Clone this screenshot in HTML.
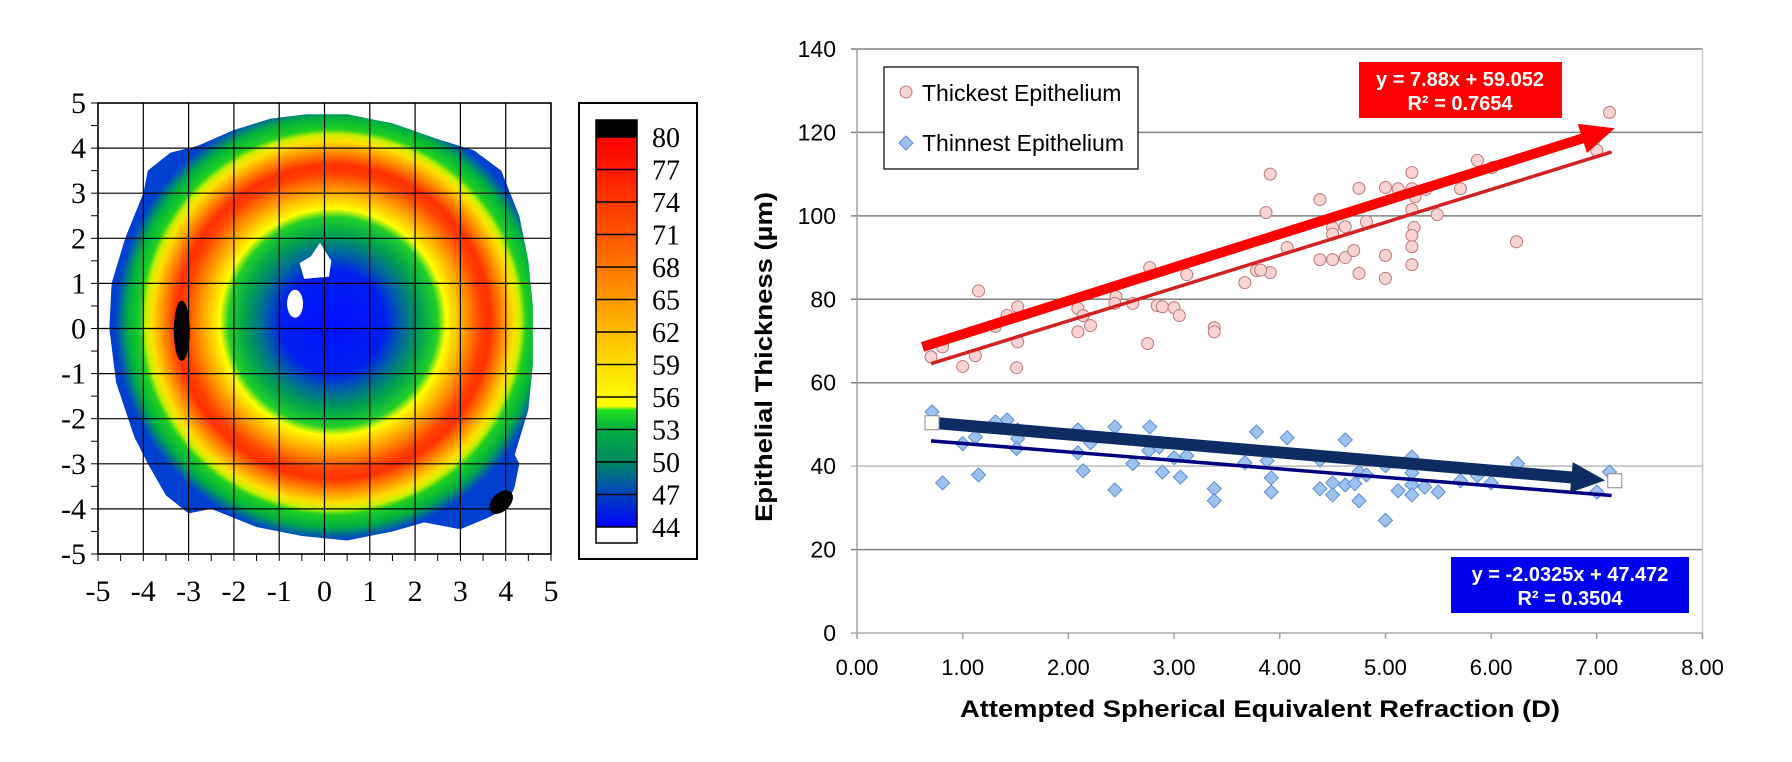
<!DOCTYPE html>
<html><head><meta charset="utf-8"><style>
html,body{margin:0;padding:0;background:#fff;}
svg{display:block;}
.serif{font-family:"Liberation Serif",serif;}
.sans{font-family:"Liberation Sans",sans-serif;}
</style></head><body>
<svg id="root" width="1792" height="762" viewBox="0 0 1792 762" xmlns="http://www.w3.org/2000/svg">
<defs>
<radialGradient id="mapGrad" gradientUnits="userSpaceOnUse" cx="333" cy="322" r="218">
<stop offset="0" stop-color="#0010ff"/><stop offset="0.24" stop-color="#0020ee"/>
<stop offset="0.32" stop-color="#00689e"/><stop offset="0.40" stop-color="#00a050"/>
<stop offset="0.48" stop-color="#20d028"/><stop offset="0.52" stop-color="#ffff00"/>
<stop offset="0.60" stop-color="#ffa000"/><stop offset="0.68" stop-color="#ff4000"/>
<stop offset="0.72" stop-color="#ff3000"/><stop offset="0.78" stop-color="#ff9000"/>
<stop offset="0.83" stop-color="#ffe000"/><stop offset="0.86" stop-color="#c8f000"/>
<stop offset="0.885" stop-color="#20d020"/><stop offset="0.94" stop-color="#00b040"/>
<stop offset="1" stop-color="#0040d0"/></radialGradient>
<linearGradient id="cbGrad" x1="0" y1="0" x2="0" y2="1">
<stop offset="0" stop-color="#ff0000"/><stop offset="0.083" stop-color="#ff1a00"/>
<stop offset="0.25" stop-color="#ff5500"/><stop offset="0.417" stop-color="#ff9900"/>
<stop offset="0.583" stop-color="#ffdd00"/><stop offset="0.69" stop-color="#ffff00"/>
<stop offset="0.70" stop-color="#20e020"/><stop offset="0.75" stop-color="#00b040"/>
<stop offset="0.833" stop-color="#008860"/><stop offset="0.9" stop-color="#0050b0"/>
<stop offset="1" stop-color="#0000ff"/></linearGradient>
<clipPath id="mapClip"><polygon id="clipPoly"/></clipPath>
</defs>
<g id="mapLayer"></g>
<g id="cbLayer"></g>
<g id="chartLayer"></g>
</svg>
<script>
// ---------- chart data ----------
const xTickLabels = ["0.00","1.00","2.00","3.00","4.00","5.00","6.00","7.00","8.00"];
const yTickValues = [0,20,40,60,80,100,120,140];
const thickX = [3.91,3.87,1.15,0.70,0.81,1.0,1.12,1.31,1.42,1.52,1.52,1.51,2.09,2.14,2.09,2.21,2.45,2.44,2.61,2.77,2.75,2.84,2.89,3.0,3.05,3.12,3.38,3.38,3.67,3.78,3.91,4.07,7.12,7.0,4.38,4.75,5.0,5.12,5.25,5.25,5.28,5.38,5.25,5.49,5.71,5.87,6.01,4.82,4.62,4.5,4.5,5.27,5.25,5.25,5.25,6.24,3.82,4.38,4.5,4.62,4.7,4.75,5.0,5.0];
const thickY = [110,100.8,82,66.2,68.6,63.9,66.5,73.5,76.1,78.2,69.8,63.6,77.8,76.1,72.2,73.7,80.6,79,79,87.6,69.4,78.5,78.2,78,76.1,85.9,73.2,72.2,84,86.9,86.4,92.4,124.8,115.7,103.9,106.6,106.8,106.5,110.4,106.5,104.6,106.3,101.5,100.3,106.5,113.3,111.6,98.6,97.4,97.2,95.6,97.2,95.3,92.6,88.3,93.8,87,89.5,89.5,90,91.7,86.2,90.5,85];
const thinX = [0.71,0.81,1.0,1.12,1.15,1.31,1.42,1.52,1.52,1.51,2.09,2.09,2.21,2.14,2.44,2.44,2.61,2.77,2.76,2.86,2.89,3.0,3.12,3.06,3.38,3.38,3.67,3.78,3.88,3.92,3.92,4.07,4.62,4.38,4.38,4.5,4.5,4.62,4.71,4.75,4.82,4.75,5.0,5.12,5.25,5.25,5.25,5.25,5.37,5.5,5.71,5.87,6.0,6.25,7.0,7.12,5.0];
const thinY = [53,36,45.4,47,37.9,50.6,51.1,48.7,46.6,44.2,48.7,43.2,45.6,38.9,49.4,34.3,40.6,49.4,43.7,44.6,38.6,42,42.5,37.4,34.6,31.7,40.8,48.2,41.3,37.2,33.8,46.8,46.3,41.5,34.6,36,33.1,35.5,35.8,38.6,37.9,31.7,40.1,34.1,42.2,38.4,35.5,33.1,35,33.8,36.5,37.7,36,40.6,33.8,38.6,27];
const thickFit = [7.88, 59.052];
const thinFit = [-2.0325, 47.472];
const fitRange = [0.7, 7.14];
const thickArrow = [0.62, 68.6, 7.17, 121];
const thinArrow = [0.71, 50.4, 7.08, 36.6];

// ---------- map data ----------
const mapTicks = [-5,-4,-3,-2,-1,0,1,2,3,4,5];
const outlineX = [-0.4,0.5,1.5,2.5,3.3,3.9,4.1,4.3,4.5,4.6,4.6,4.5,4.2,4.3,4.2,4.0,3.6,3.0,2.2,1.5,0.5,-0.5,-1.5,-2.5,-3.0,-3.5,-3.9,-4.2,-4.6,-4.75,-4.7,-4.4,-4.0,-3.9,-3.4,-2.8,-2.0,-1.2];
const outlineY = [4.75,4.75,4.55,4.2,3.95,3.5,3.0,2.5,1.5,0.5,-0.8,-1.8,-2.8,-3.0,-3.5,-4.0,-4.2,-4.45,-4.3,-4.5,-4.7,-4.6,-4.4,-4.0,-4.1,-3.7,-3.0,-2.4,-1.2,0,1.0,2.0,3.0,3.5,3.9,4.05,4.4,4.65];
const cbLabels = ["80","77","74","71","68","65","62","59","56","53","50","47","44"];

const NS="http://www.w3.org/2000/svg";
function mk(parent,tag,attrs,text){const e=document.createElementNS(NS,tag);for(const k in attrs)e.setAttribute(k,attrs[k]);if(text!==undefined)e.textContent=text;parent.appendChild(e);return e;}

// ===== Map =====
const mapG=document.getElementById('mapLayer');
const mx=v=>98+(v+5)*45.3, my=v=>103+(5-v)*45.1;
document.getElementById('clipPoly').setAttribute('points',outlineX.map((x,i)=>mx(x)+','+my(outlineY[i])).join(' '));
const disc=mk(mapG,'rect',{x:90,y:95,width:470,height:470,fill:'url(#mapGrad)','clip-path':'url(#mapClip)'});


const h1=mk(mapG,'path',{d:`M${mx(-0.1)},${my(1.9)} L${mx(0.15)},${my(1.5)} L${mx(0.1)},${my(1.15)} L${mx(-0.45)},${my(1.1)} L${mx(-0.55)},${my(1.45)} L${mx(-0.3)},${my(1.6)} Z`,fill:'#fff'});


const h2=mk(mapG,'ellipse',{cx:mx(-0.65),cy:my(0.55),rx:8,ry:14,fill:'#fff'});


const s1=mk(mapG,'ellipse',{cx:mx(-3.15),cy:my(-0.05),rx:8,ry:30,fill:'#000'});


const s2=mk(mapG,'ellipse',{cx:mx(3.9),cy:my(-3.85),rx:9,ry:14,fill:'#000',transform:`rotate(45 ${mx(3.9)} ${my(-3.85)})`});


mapTicks.forEach(t=>{
  mk(mapG,'line',{x1:mx(t),x2:mx(t),y1:my(5),y2:my(-5),stroke:'#000','stroke-width':1.2});
  mk(mapG,'line',{x1:mx(-5),x2:mx(5),y1:my(t),y2:my(t),stroke:'#000','stroke-width':1.2});
  const lx=mk(mapG,'text',{x:mx(t),y:601,'text-anchor':'middle','font-size':30,class:'serif'},String(t));
  
  
  const ly=mk(mapG,'text',{x:86,y:my(t)+10,'text-anchor':'end','font-size':30,class:'serif'},String(t));
  
  
});
for(let t=-5;t<=5;t+=0.5){mk(mapG,'line',{x1:mx(t),x2:mx(t),y1:my(-5),y2:my(-5)+7,stroke:'#000'});mk(mapG,'line',{x1:mx(-5)-7,x2:mx(-5),y1:my(t),y2:my(t),stroke:'#000'});}
mk(mapG,'rect',{x:mx(-5),y:my(5),width:mx(5)-mx(-5),height:my(-5)-my(5),fill:'none',stroke:'#000','stroke-width':1.5});

// ===== Colorbar =====
const cbG=document.getElementById('cbLayer');
mk(cbG,'rect',{x:579,y:103,width:118,height:456,fill:'#fff',stroke:'#000','stroke-width':2});
mk(cbG,'rect',{x:596,y:120,width:41,height:17,fill:'#000'});
mk(cbG,'rect',{x:596,y:137,width:41,height:390,fill:'url(#cbGrad)'});
mk(cbG,'rect',{x:596,y:527,width:41,height:16,fill:'#fff'});
mk(cbG,'rect',{x:596,y:120,width:41,height:423,fill:'none',stroke:'#000','stroke-width':1.5});
cbLabels.forEach((l,i)=>{const y=137+i*32.5;
  mk(cbG,'line',{x1:596,x2:637,y1:y,y2:y,stroke:'#000','stroke-width':1.5});
  const t=mk(cbG,'text',{x:652,y:y+10,'font-size':28,class:'serif'},l);
  
  });

// ===== Scatter chart =====
const G=document.getElementById('chartLayer');
const X0=857,X1=1702.5,Y0=633,Y140=49;
const sx=v=>X0+(X1-X0)*v/8, sy=v=>Y0-(Y0-Y140)*v/140;
yTickValues.forEach(v=>{
  const l=mk(G,'line',{x1:851,x2:X1,y1:sy(v),y2:sy(v),stroke:(v===40?'#bbbbbb':(v===0?'#aaaaaa':'#808080')),'stroke-width':1.5});
  
  
  const t=mk(G,'text',{x:836,y:sy(v)+8,'text-anchor':'end','font-size':23,class:'sans'},String(v));
  
  
});
mk(G,'line',{x1:X0,x2:X0,y1:Y140,y2:Y0,stroke:'#a0a0a0','stroke-width':1.5});
mk(G,'line',{x1:X1,x2:X1,y1:Y140,y2:Y0+6,stroke:'#c8c8c8','stroke-width':1.5});
xTickLabels.forEach((lab,i)=>{
  mk(G,'line',{x1:sx(i),x2:sx(i),y1:Y0,y2:Y0+6,stroke:'#a0a0a0','stroke-width':1.5});
  const t=mk(G,'text',{x:sx(i),y:675,'text-anchor':'middle','font-size':22,class:'sans'},lab);
  
  
});
const xt=mk(G,'text',{x:1260,y:717,'text-anchor':'middle','font-size':24,'font-weight':'bold',class:'sans',textLength:600,lengthAdjust:'spacingAndGlyphs'},'Attempted Spherical Equivalent Refraction (D)');


const yt=mk(G,'text',{x:0,y:0,'text-anchor':'middle','font-size':24,'font-weight':'bold',class:'sans',textLength:330,lengthAdjust:'spacingAndGlyphs',transform:'translate(772 357) rotate(-90)'},'Epithelial Thickness (µm)');



// points
thickX.forEach((x,i)=>{const c=mk(G,'circle',{cx:sx(x),cy:sy(thickY[i]),r:6,fill:'#f9d2d2',stroke:'#b87878','stroke-width':1});

});
thinX.forEach((x,i)=>{const cx=sx(x),cy=sy(thinY[i]);const d=mk(G,'polygon',{points:`${cx},${cy-7} ${cx+7},${cy} ${cx},${cy+7} ${cx-7},${cy}`,fill:'#9cc3f0',stroke:'#5b8bd0','stroke-width':1});

});

// trend lines
const tl1=mk(G,'line',{x1:sx(fitRange[0]),y1:sy(thickFit[0]*fitRange[0]+thickFit[1]),x2:sx(fitRange[1]),y2:sy(thickFit[0]*fitRange[1]+thickFit[1]),stroke:'#d42020','stroke-width':3.5});


const tl2=mk(G,'line',{x1:sx(fitRange[0]),y1:sy(thinFit[0]*fitRange[0]+thinFit[1]),x2:sx(fitRange[1]),y2:sy(thinFit[0]*fitRange[1]+thinFit[1]),stroke:'#000080','stroke-width':3.5});



function arrow(a,color,w,head,name){
  const x1=sx(a[0]),y1=sy(a[1]),x2=sx(a[2]),y2=sy(a[3]);
  const dx=x2-x1,dy=y2-y1,L=Math.hypot(dx,dy),ux=dx/L,uy=dy/L,nx=-uy,ny=ux;
  const bx=x2-ux*head,by=y2-uy*head;
  const g=mk(G,'g',{});
  
  
  mk(g,'line',{x1:x1,y1:y1,x2:bx+ux*2,y2:by+uy*2,stroke:color,'stroke-width':w});
  mk(g,'polygon',{points:`${x2},${y2} ${bx+nx*head*0.45},${by+ny*head*0.45} ${bx-nx*head*0.45},${by-ny*head*0.45}`,fill:color});
}
arrow(thickArrow,'#ff0000',10,34,'thickest-arrow');
arrow(thinArrow,'#0d2d62',12,34,'thinnest-arrow');
[[thinArrow[0],thinArrow[1]],[7.17,36.5]].forEach(p=>{const r=mk(G,'rect',{x:sx(p[0])-7,y:sy(p[1])-7,width:14,height:14,fill:'#fff',stroke:'#888','stroke-width':1});

});

// equation boxes
const eb1=mk(G,'g',{});


mk(eb1,'rect',{x:1359,y:62,width:203,height:56,fill:'#ff0000'});
mk(eb1,'text',{x:1460,y:86,'text-anchor':'middle','font-size':20,'font-weight':'bold',fill:'#fff',class:'sans'},'y = 7.88x + 59.052');
mk(eb1,'text',{x:1460,y:110,'text-anchor':'middle','font-size':20,'font-weight':'bold',fill:'#fff',class:'sans'},'R² = 0.7654');
const eb2=mk(G,'g',{});


mk(eb2,'rect',{x:1451,y:557,width:238,height:56,fill:'#0000ee'});
mk(eb2,'text',{x:1570,y:581,'text-anchor':'middle','font-size':20,'font-weight':'bold',fill:'#fff',class:'sans'},'y = -2.0325x + 47.472');
mk(eb2,'text',{x:1570,y:605,'text-anchor':'middle','font-size':20,'font-weight':'bold',fill:'#fff',class:'sans'},'R² = 0.3504');

// legend
const lg=mk(G,'g',{});


mk(lg,'rect',{x:884,y:67,width:254,height:102,fill:'#fff',stroke:'#000','stroke-width':1.2});
mk(lg,'circle',{cx:906,cy:92,r:6,fill:'#f9d2d2',stroke:'#b87878'});
const le1=mk(lg,'text',{x:922,y:101,'font-size':23,class:'sans'},'Thickest Epithelium');


mk(lg,'polygon',{points:'906,136 913,143 906,150 899,143',fill:'#9cc3f0',stroke:'#5b8bd0'});
const le2=mk(lg,'text',{x:922,y:151,'font-size':23,class:'sans'},'Thinnest Epithelium');


</script>
</body></html>
